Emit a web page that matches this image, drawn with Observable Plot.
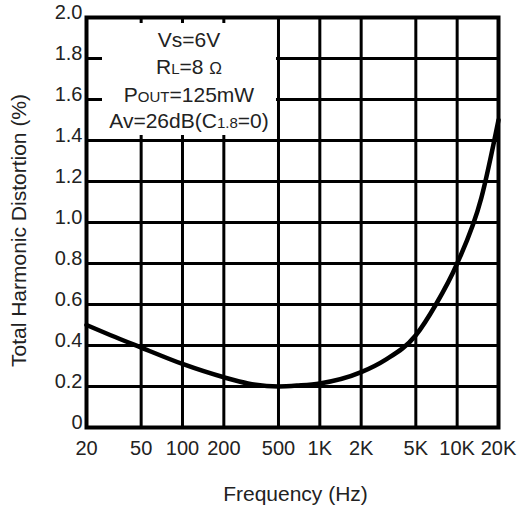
<!DOCTYPE html>
<html>
<head>
<meta charset="utf-8">
<script src="https://cdn.jsdelivr.net/npm/d3@7"></script>
<script src="https://cdn.jsdelivr.net/npm/@observablehq/plot@0.6"></script>
<style>
  html, body { margin: 0; padding: 0; background: #fff; }
  #chart svg { display: block; }
</style>
</head>
<body>
<div id="chart"></div>
<script>
// THD vs frequency curve (Hz, %)
const freq = [20, 30, 50, 100, 200, 300, 500, 700, 1000, 2000, 3000, 5000, 7000, 10000, 15000, 20000];
const thd  = [0.50, 0.45, 0.39, 0.31, 0.245, 0.215, 0.20, 0.205, 0.215, 0.27, 0.33, 0.45, 0.60, 0.80, 1.12, 1.50];

// Axis ticks and their labels
const xTicks = [20, 50, 100, 200, 500, 1000, 2000, 5000, 10000, 20000];
const xTickLabels = ["20", "50", "100", "200", "500", "1K", "2K", "5K", "10K", "20K"];
const yTicks = [0, 0.2, 0.4, 0.6, 0.8, 1.0, 1.2, 1.4, 1.6, 1.8, 2.0];
const yTickLabels = ["0", "0.2", "0.4", "0.6", "0.8", "1.0", "1.2", "1.4", "1.6", "1.8", "2.0"];

// Test conditions; each line is a list of [text, fontSize] runs
const conditionLines = [
  [["Vs=6V", 21]],
  [["R", 21], ["L", 15], ["=8 ", 21], ["\u03A9", 17]],
  [["P", 21], ["OUT", 15], ["=125mW", 21]],
  [["Av=26dB(C", 21], ["1.8", 15], ["=0)", 21]]
];
// Box holding the conditions, in data units
const boxFreq = [20, 500];
const boxThd = [1.4, 2.0];

const data = freq.map((f, i) => ({f, v: thd[i]}));

const FONT = "'Liberation Sans', Arial, Helvetica, sans-serif";
const INK = "#222";

// Text block with mixed-size runs, placed with the plot's scales
function conditionsMark(index, {x, y}) {
  const g = d3.create("svg:g")
    .attr("font-family", FONT)
    .attr("fill", INK)
    .attr("text-anchor", "middle");
  const cx = (x(boxFreq[0]) + 16 + x(boxFreq[1]) - 2) / 2;
  const top = y(boxThd[1]);
  const baselines = [30, 57, 85, 111];
  conditionLines.forEach((runs, i) => {
    const t = g.append("text")
      .attr("x", cx)
      .attr("y", top + baselines[i]);
    runs.forEach(([s, size]) => {
      t.append("tspan").attr("font-size", size).text(s);
    });
  });
  return g.node();
}

const chart = Plot.plot({
  width: 523,
  height: 508,
  marginLeft: 86,
  marginRight: 25,
  marginTop: 17,
  marginBottom: 81,
  style: {fontFamily: FONT, background: "#fff", color: INK},
  x: {type: "log", domain: [20, 20000], axis: null},
  y: {domain: [0, 2.0], axis: null},
  marks: [
    Plot.gridX(xTicks, {stroke: "black", strokeOpacity: 1, strokeWidth: 3}),
    Plot.gridY(yTicks, {stroke: "black", strokeOpacity: 1, strokeWidth: 3}),
    Plot.rect([0], {
      x1: () => boxFreq[0], x2: () => boxFreq[1],
      y1: () => boxThd[0], y2: () => boxThd[1],
      fill: "white",
      insetLeft: 16, insetTop: 6, insetBottom: 5, insetRight: 2
    }),
    conditionsMark,
    Plot.line(data, {x: "f", y: "v", stroke: "black", strokeWidth: 4.5, curve: "monotone-x"}),
    Plot.frame({stroke: "black", strokeWidth: 4}),
    // tick labels
    Plot.text(xTicks, {
      x: d => d, text: (d, i) => xTickLabels[i],
      frameAnchor: "bottom", lineAnchor: "top", dy: 13, fontSize: 20, fill: INK
    }),
    Plot.text(yTicks, {
      y: d => d, text: (d, i) => yTickLabels[i],
      frameAnchor: "left", textAnchor: "end", lineAnchor: "middle",
      dx: -4, dy: -5, fontSize: 20, fill: INK
    }),
    // axis titles
    Plot.text(["Total Harmonic Distortion (%)"], {
      frameAnchor: "left", textAnchor: "middle", lineAnchor: "middle",
      dx: -67, dy: 8, rotate: -90, fontSize: 21, fill: INK
    }),
    Plot.text(["Frequency (Hz)"], {
      frameAnchor: "bottom", textAnchor: "middle", lineAnchor: "middle",
      dx: 3, dy: 67, fontSize: 21, fill: INK
    })
  ]
});

document.getElementById("chart").appendChild(chart);
</script>
</body>
</html>
